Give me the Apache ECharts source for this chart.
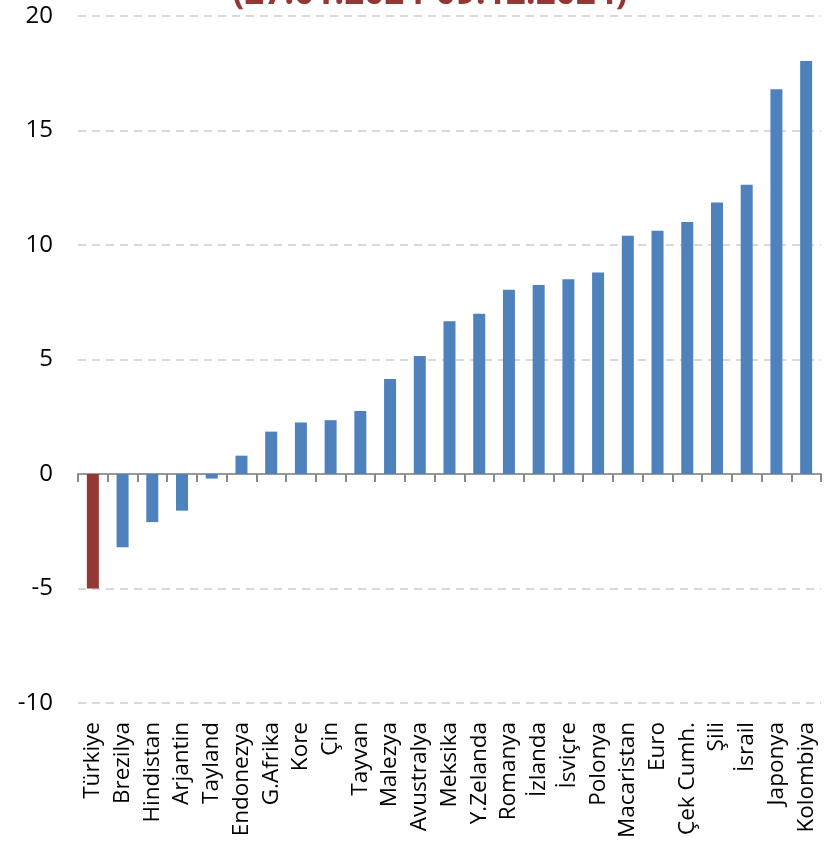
<!DOCTYPE html>
<html>
<head>
<meta charset="utf-8">
<script src="https://cdn.jsdelivr.net/npm/echarts@6/dist/echarts.min.js"></script>
<style>
  html, body { margin: 0; padding: 0; background: #fff; }
  #main { width: 833px; height: 843px; }
</style>
</head>
<body>
<div id="main"></div>
<script>
// ülkeler ve değişim (%)
var countries = ['Türkiye', 'Brezilya', 'Hindistan', 'Arjantin', 'Tayland', 'Endonezya', 'G.Afrika', 'Kore', 'Çin',
  'Tayvan', 'Malezya', 'Avustralya', 'Meksika', 'Y.Zelanda', 'Romanya', 'İzlanda', 'İsviçre', 'Polonya',
  'Macaristan', 'Euro', 'Çek Cumh.', 'Şili', 'İsrail', 'Japonya', 'Kolombiya'];
var changes = [-5.0, -3.2, -2.1, -1.6, -0.2, 0.8, 1.85, 2.25, 2.35, 2.75, 4.15, 5.15, 6.67, 7.0, 8.05, 8.25, 8.5, 8.8,
  10.4, 10.62, 11.0, 11.86, 12.63, 16.8, 18.03];
var highlight = 'Türkiye';
var yTicks = { min: -10, max: 20, step: 5 };
var titleText = '(27.01.2024-09.12.2024)';

var chart = echarts.init(document.getElementById('main'));

var barData = countries.map(function (c, i) {
  return {
    value: changes[i],
    itemStyle: { color: c === highlight ? '#953735' : '#4f81bd' }
  };
});

chart.setOption({
  animation: false,
  textStyle: { fontFamily: 'Open Sans' },
  title: {
    text: titleText,
    left: 425,
    top: -28,
    textAlign: 'center',
    textStyle: { color: '#953735', fontSize: 35, fontWeight: 'bold', fontFamily: 'Open Sans' }
  },
  grid: { left: 78, right: 12, top: 16, bottom: 140, containLabel: false },
  xAxis: [{
    type: 'category',
    data: countries,
    position: 'bottom',
    axisLine: { show: false, onZero: false },
    axisTick: { show: false },
    axisLabel: { rotate: 90, margin: 19, fontSize: 22.5, color: '#000', interval: 0 }
  }, {
    type: 'category',
    data: countries,
    position: 'bottom',
    axisLine: { show: true, onZero: true, lineStyle: { color: '#999', width: 2 } },
    axisTick: { show: true, interval: 0, length: 8, lineStyle: { color: '#888', width: 2 } },
    axisLabel: { show: false }
  }],
  yAxis: {
    type: 'value',
    min: yTicks.min,
    max: yTicks.max,
    interval: yTicks.step,
    axisLine: { show: false },
    axisTick: { show: false },
    axisLabel: { fontSize: 24, color: '#000', margin: 25 },
    splitLine: { lineStyle: { color: '#d9d9d9', type: [8, 6], width: 2 } }
  },
  series: [{
    type: 'bar',
    xAxisIndex: 0,
    data: barData,
    barWidth: 12
  }]
});
</script>
</body>
</html>
